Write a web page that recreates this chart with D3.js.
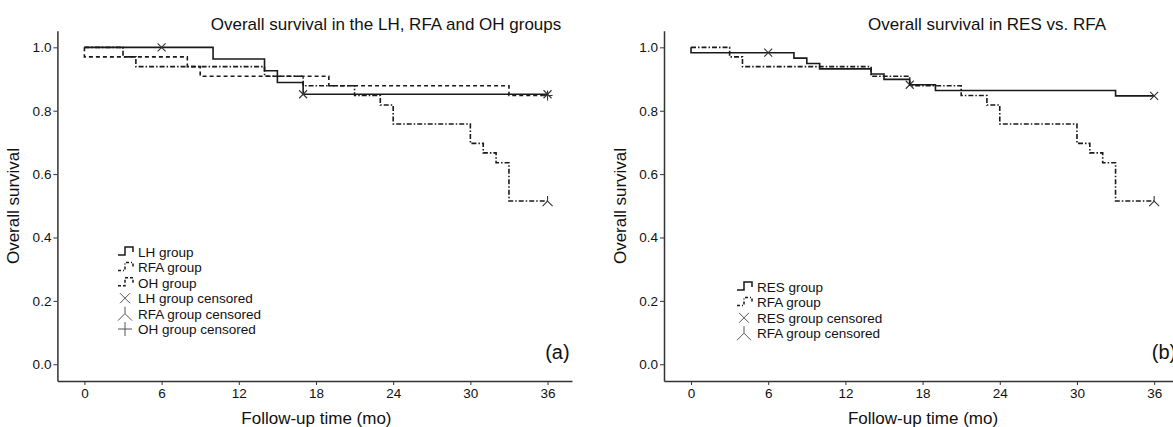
<!DOCTYPE html>
<html>
<head>
<meta charset="utf-8">
<script src="https://cdn.jsdelivr.net/npm/d3@7"></script>
<style>
  body { margin: 0; background: #fff; }
  svg { display: block; font-family: "Liberation Sans", Arial, sans-serif; }
  .tick text { font-size: 13.5px; fill: #111; }
  .tick line { stroke: #333; }
  .domain { stroke: #333; stroke-width: 1.5px; }
</style>
</head>
<body>
<div id="chart"></div>
<script>
// ticks
const xTicks = [0, 6, 12, 18, 24, 30, 36];
const yTicks = [0, 0.2, 0.4, 0.6, 0.8, 1.0];

// Kaplan-Meier steps (time, survival)
const lhTime = [0, 10, 14, 15, 17, 36];
const lhSurv = [1.000, 0.963, 0.926, 0.889, 0.852, 0.852];
const lhCensTime = [6, 17, 36];
const lhCensSurv = [1.000, 0.852, 0.852];

const rfaTime = [0, 3, 4, 14, 17, 21, 23, 24, 30, 31, 32, 33, 36];
const rfaSurv = [1.000, 0.970, 0.939, 0.909, 0.879, 0.848, 0.818, 0.758, 0.697, 0.667, 0.636, 0.515, 0.515];
const rfaCensTime = [36];
const rfaCensSurv = [0.515];

const ohTime = [0, 0, 8, 9, 19, 33, 36];
const ohSurv = [1.000, 0.970, 0.939, 0.909, 0.879, 0.848, 0.848];
const ohCensTime = [36];
const ohCensSurv = [0.848];

const resTime = [0, 0, 8, 9, 10, 14, 15, 17, 19, 33, 36];
const resSurv = [1.000, 0.983, 0.966, 0.949, 0.932, 0.916, 0.899, 0.882, 0.864, 0.847, 0.847];
const resCensTime = [6, 17, 36];
const resCensSurv = [0.983, 0.882, 0.847];

const W = 1173, H = 427;
const svg = d3.select("#chart").append("svg")
  .attr("width", W).attr("height", H);

const dashes = { solid: null, dashdot: "5,2,1.5,2", dashed: "4,3" };

// censor glyphs
function markX(g, s) {
  return g.append("path").attr("d", `M${-s},${-s}L${s},${s}M${-s},${s}L${s},${-s}`);
}
function markY(g, s) {
  return g.append("path").attr("d", `M0,${-s}L0,0M0,0L${-s},${s}M0,0L${s},${s}`);
}
function markPlus(g, s) {
  return g.append("path").attr("d", `M${-s},0L${s},0M0,${-s}L0,${s}`);
}
const markers = { x: markX, y: markY, plus: markPlus };

function drawPanel(ox, title, titleX, tag, series, legendX, legendY) {
  const x = d3.scaleLinear().domain([-2.1, 37.9]).range([ox, ox + 514.6]);
  const y = d3.scaleLinear().domain([-0.0528, 1.0525]).range([381, 30.7]);
  const g = svg.append("g");

  g.append("g").attr("transform", `translate(0,381)`)
    .call(d3.axisBottom(x).tickValues(xTicks).tickSize(4).tickSizeOuter(0).tickPadding(3));
  g.append("g").attr("transform", `translate(${ox},0)`)
    .call(d3.axisLeft(y).tickValues(yTicks).tickSize(4).tickSizeOuter(0).tickPadding(2)
      .tickFormat(d3.format(".1f")));

  g.append("text").attr("x", titleX).attr("y", 30)
    .attr("text-anchor", "middle").style("font-size", "17px").attr("fill", "#111")
    .text(title);
  g.append("text").attr("x", ox + 259).attr("y", 424)
    .attr("text-anchor", "middle").style("font-size", "17px").attr("fill", "#111")
    .text("Follow-up time (mo)");
  g.append("text")
    .attr("transform", `translate(${ox - 38},206) rotate(-90)`)
    .attr("text-anchor", "middle").style("font-size", "17px").attr("fill", "#111")
    .text("Overall survival");
  g.append("text").attr("x", ox + 500).attr("y", 359)
    .attr("text-anchor", "middle").style("font-size", "20px").attr("fill", "#111")
    .text(tag);

  const line = d3.line()
    .x((d) => x(d[0])).y((d) => y(d[1]))
    .curve(d3.curveStepAfter);

  series.forEach((s) => {
    const pts = s.time.map((t, i) => [t, s.surv[i]]);
    g.append("path").attr("d", line(pts))
      .attr("fill", "none").attr("stroke", "#1a1a1a").attr("stroke-width", 1.6)
      .attr("stroke-dasharray", dashes[s.style]);
    s.censTime.forEach((t, i) => {
      const m = g.append("g").attr("transform", `translate(${x(t)},${y(s.censSurv[i])})`);
      markers[s.marker](m, s.marker === "x" ? 4 : 5)
        .attr("fill", "none").attr("stroke", "#333").attr("stroke-width", 1.1);
    });
  });

  // legend
  const lg = g.append("g").attr("transform", `translate(${legendX},${legendY})`);
  let row = 0;
  series.forEach((s) => {
    const yy = row * 15.4;
    lg.append("path").attr("d", `M0,${yy + 3}h7v-8h8v5`)
      .attr("fill", "none").attr("stroke", "#1a1a1a").attr("stroke-width", 1.5)
      .attr("stroke-dasharray", s.style === "solid" ? null : (s.style === "dashed" ? "3,2" : "3,2,1,2"));
    lg.append("text").attr("x", 20).attr("y", yy + 5)
      .style("font-size", "13.5px").attr("fill", "#111").text(s.name);
    row++;
  });
  series.forEach((s) => {
    const yy = row * 15.4;
    const m = lg.append("g").attr("transform", `translate(7,${yy})`);
    markers[s.marker](m, s.marker === "x" ? 5 : 7)
      .attr("fill", "none").attr("stroke", "#555").attr("stroke-width", 1);
    lg.append("text").attr("x", 20).attr("y", yy + 5)
      .style("font-size", "13.5px").attr("fill", "#111").text(s.name + " censored");
    row++;
  });
}

drawPanel(57.4, "Overall survival in the LH, RFA and OH groups", 386, "(a)", [
  { name: "LH group", time: lhTime, surv: lhSurv, censTime: lhCensTime, censSurv: lhCensSurv, style: "solid", marker: "x" },
  { name: "RFA group", time: rfaTime, surv: rfaSurv, censTime: rfaCensTime, censSurv: rfaCensSurv, style: "dashdot", marker: "y" },
  { name: "OH group", time: ohTime, surv: ohSurv, censTime: ohCensTime, censSurv: ohCensSurv, style: "dashed", marker: "plus" }
], 118, 252);

drawPanel(664, "Overall survival in RES vs. RFA", 987, "(b)", [
  { name: "RES group", time: resTime, surv: resSurv, censTime: resCensTime, censSurv: resCensSurv, style: "solid", marker: "x" },
  { name: "RFA group", time: rfaTime, surv: rfaSurv, censTime: rfaCensTime, censSurv: rfaCensSurv, style: "dashdot", marker: "y" }
], 737, 287);
</script>
</body>
</html>
